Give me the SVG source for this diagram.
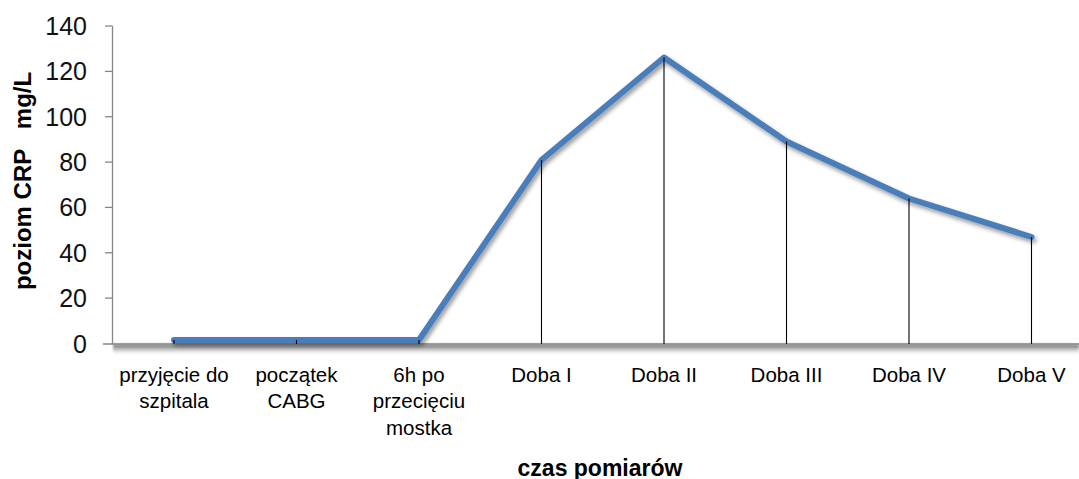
<svg xmlns="http://www.w3.org/2000/svg" width="1079" height="479" viewBox="0 0 1079 479">
<defs>
<style>
.tick{font-family:"Liberation Sans",Arial,sans-serif;font-size:25px;fill:#111;text-anchor:end}
.cat{font-family:"Liberation Sans",Arial,sans-serif;font-size:20.5px;fill:#000;text-anchor:middle}
.title{font-family:"Liberation Sans",Arial,sans-serif;font-size:24px;font-weight:bold;fill:#000;text-anchor:middle}
.axis{stroke:#868686;stroke-width:1.3;fill:none}
.drop{stroke:#000;stroke-width:1.1;fill:none}
.series{stroke:#4A7EBB;stroke-width:6;fill:none;stroke-linejoin:round;stroke-linecap:round}
</style>
<linearGradient id="axShadow" x1="0" y1="0" x2="0" y2="1">
<stop offset="0" stop-color="#555" stop-opacity="0.9"/>
<stop offset="0.5" stop-color="#999" stop-opacity="0.5"/>
<stop offset="1" stop-color="#ffffff" stop-opacity="0"/>
</linearGradient>
<filter id="lineShadow" x="-5%" y="-10%" width="110%" height="130%">
<feGaussianBlur in="SourceAlpha" stdDeviation="2"/>
<feOffset dx="2" dy="3" result="b"/>
<feFlood flood-color="#000" flood-opacity="0.4"/>
<feComposite in2="b" operator="in" result="s"/>
<feMerge><feMergeNode in="s"/><feMergeNode in="SourceGraphic"/></feMerge>
</filter>
<filter id="blur1" x="-5%" y="-50%" width="110%" height="200%">
<feGaussianBlur stdDeviation="1.2"/>
</filter>
</defs>
<rect width="1079" height="479" fill="#fff"/>
<g id="axes">
<rect x="113" y="344.5" width="966" height="11" fill="url(#axShadow)" filter="url(#blur1)"/>
<line class="axis" x1="112.5" y1="26" x2="112.5" y2="344"/>
<line class="axis" x1="103" y1="344" x2="1079" y2="344"/>
<g class="axis">
<line x1="105" y1="26" x2="112.5" y2="26"/>
<line x1="105" y1="71.4" x2="112.5" y2="71.4"/>
<line x1="105" y1="116.7" x2="112.5" y2="116.7"/>
<line x1="105" y1="162.1" x2="112.5" y2="162.1"/>
<line x1="105" y1="207.4" x2="112.5" y2="207.4"/>
<line x1="105" y1="252.8" x2="112.5" y2="252.8"/>
<line x1="105" y1="298.1" x2="112.5" y2="298.1"/>
</g>
</g>
<g id="y-tick-labels">
<text class="tick" x="87" y="35">140</text>
<text class="tick" x="87" y="80.4">120</text>
<text class="tick" x="87" y="125.7">100</text>
<text class="tick" x="87" y="171.1">80</text>
<text class="tick" x="87" y="216.4">60</text>
<text class="tick" x="87" y="261.8">40</text>
<text class="tick" x="87" y="307.1">20</text>
<text class="tick" x="87" y="352.5">0</text>
</g>
<g id="series">
<polyline class="series" filter="url(#lineShadow)" points="174,340 296.5,340 419,340 541.5,160 664,57.5 786.5,141.5 909,198.5 1031.5,237"/>
</g>
<g id="connectors">
<line class="drop" x1="174" y1="340" x2="174" y2="344"/>
<line class="drop" x1="296.5" y1="340" x2="296.5" y2="344"/>
<line class="drop" x1="419" y1="340" x2="419" y2="344"/>
<line class="drop" x1="541.5" y1="160" x2="541.5" y2="344"/>
<line class="drop" x1="664" y1="57.5" x2="664" y2="344"/>
<line class="drop" x1="786.5" y1="141.5" x2="786.5" y2="344"/>
<line class="drop" x1="909" y1="198.5" x2="909" y2="344"/>
<line class="drop" x1="1031.5" y1="237" x2="1031.5" y2="344"/>
</g>
<g id="category-labels">
<text class="cat" x="174" y="381.5">przyjęcie do</text>
<text class="cat" x="174" y="408">szpitala</text>
<text class="cat" x="296.5" y="381.5">początek</text>
<text class="cat" x="296.5" y="408">CABG</text>
<text class="cat" x="419" y="381.5">6h po</text>
<text class="cat" x="419" y="408">przecięciu</text>
<text class="cat" x="419" y="435">mostka</text>
<text class="cat" x="541.5" y="381.5">Doba I</text>
<text class="cat" x="664" y="381.5">Doba II</text>
<text class="cat" x="786.5" y="381.5">Doba III</text>
<text class="cat" x="909" y="381.5">Doba IV</text>
<text class="cat" x="1031.5" y="381.5">Doba V</text>
</g>
<g id="axis-titles">
<text class="title" transform="translate(31,181) rotate(-90)" xml:space="preserve" style="white-space:pre">poziom CRP   mg/L</text>
<text class="title" x="600" y="476" style="font-size:23px">czas pomiarów</text>
</g>
</svg>
